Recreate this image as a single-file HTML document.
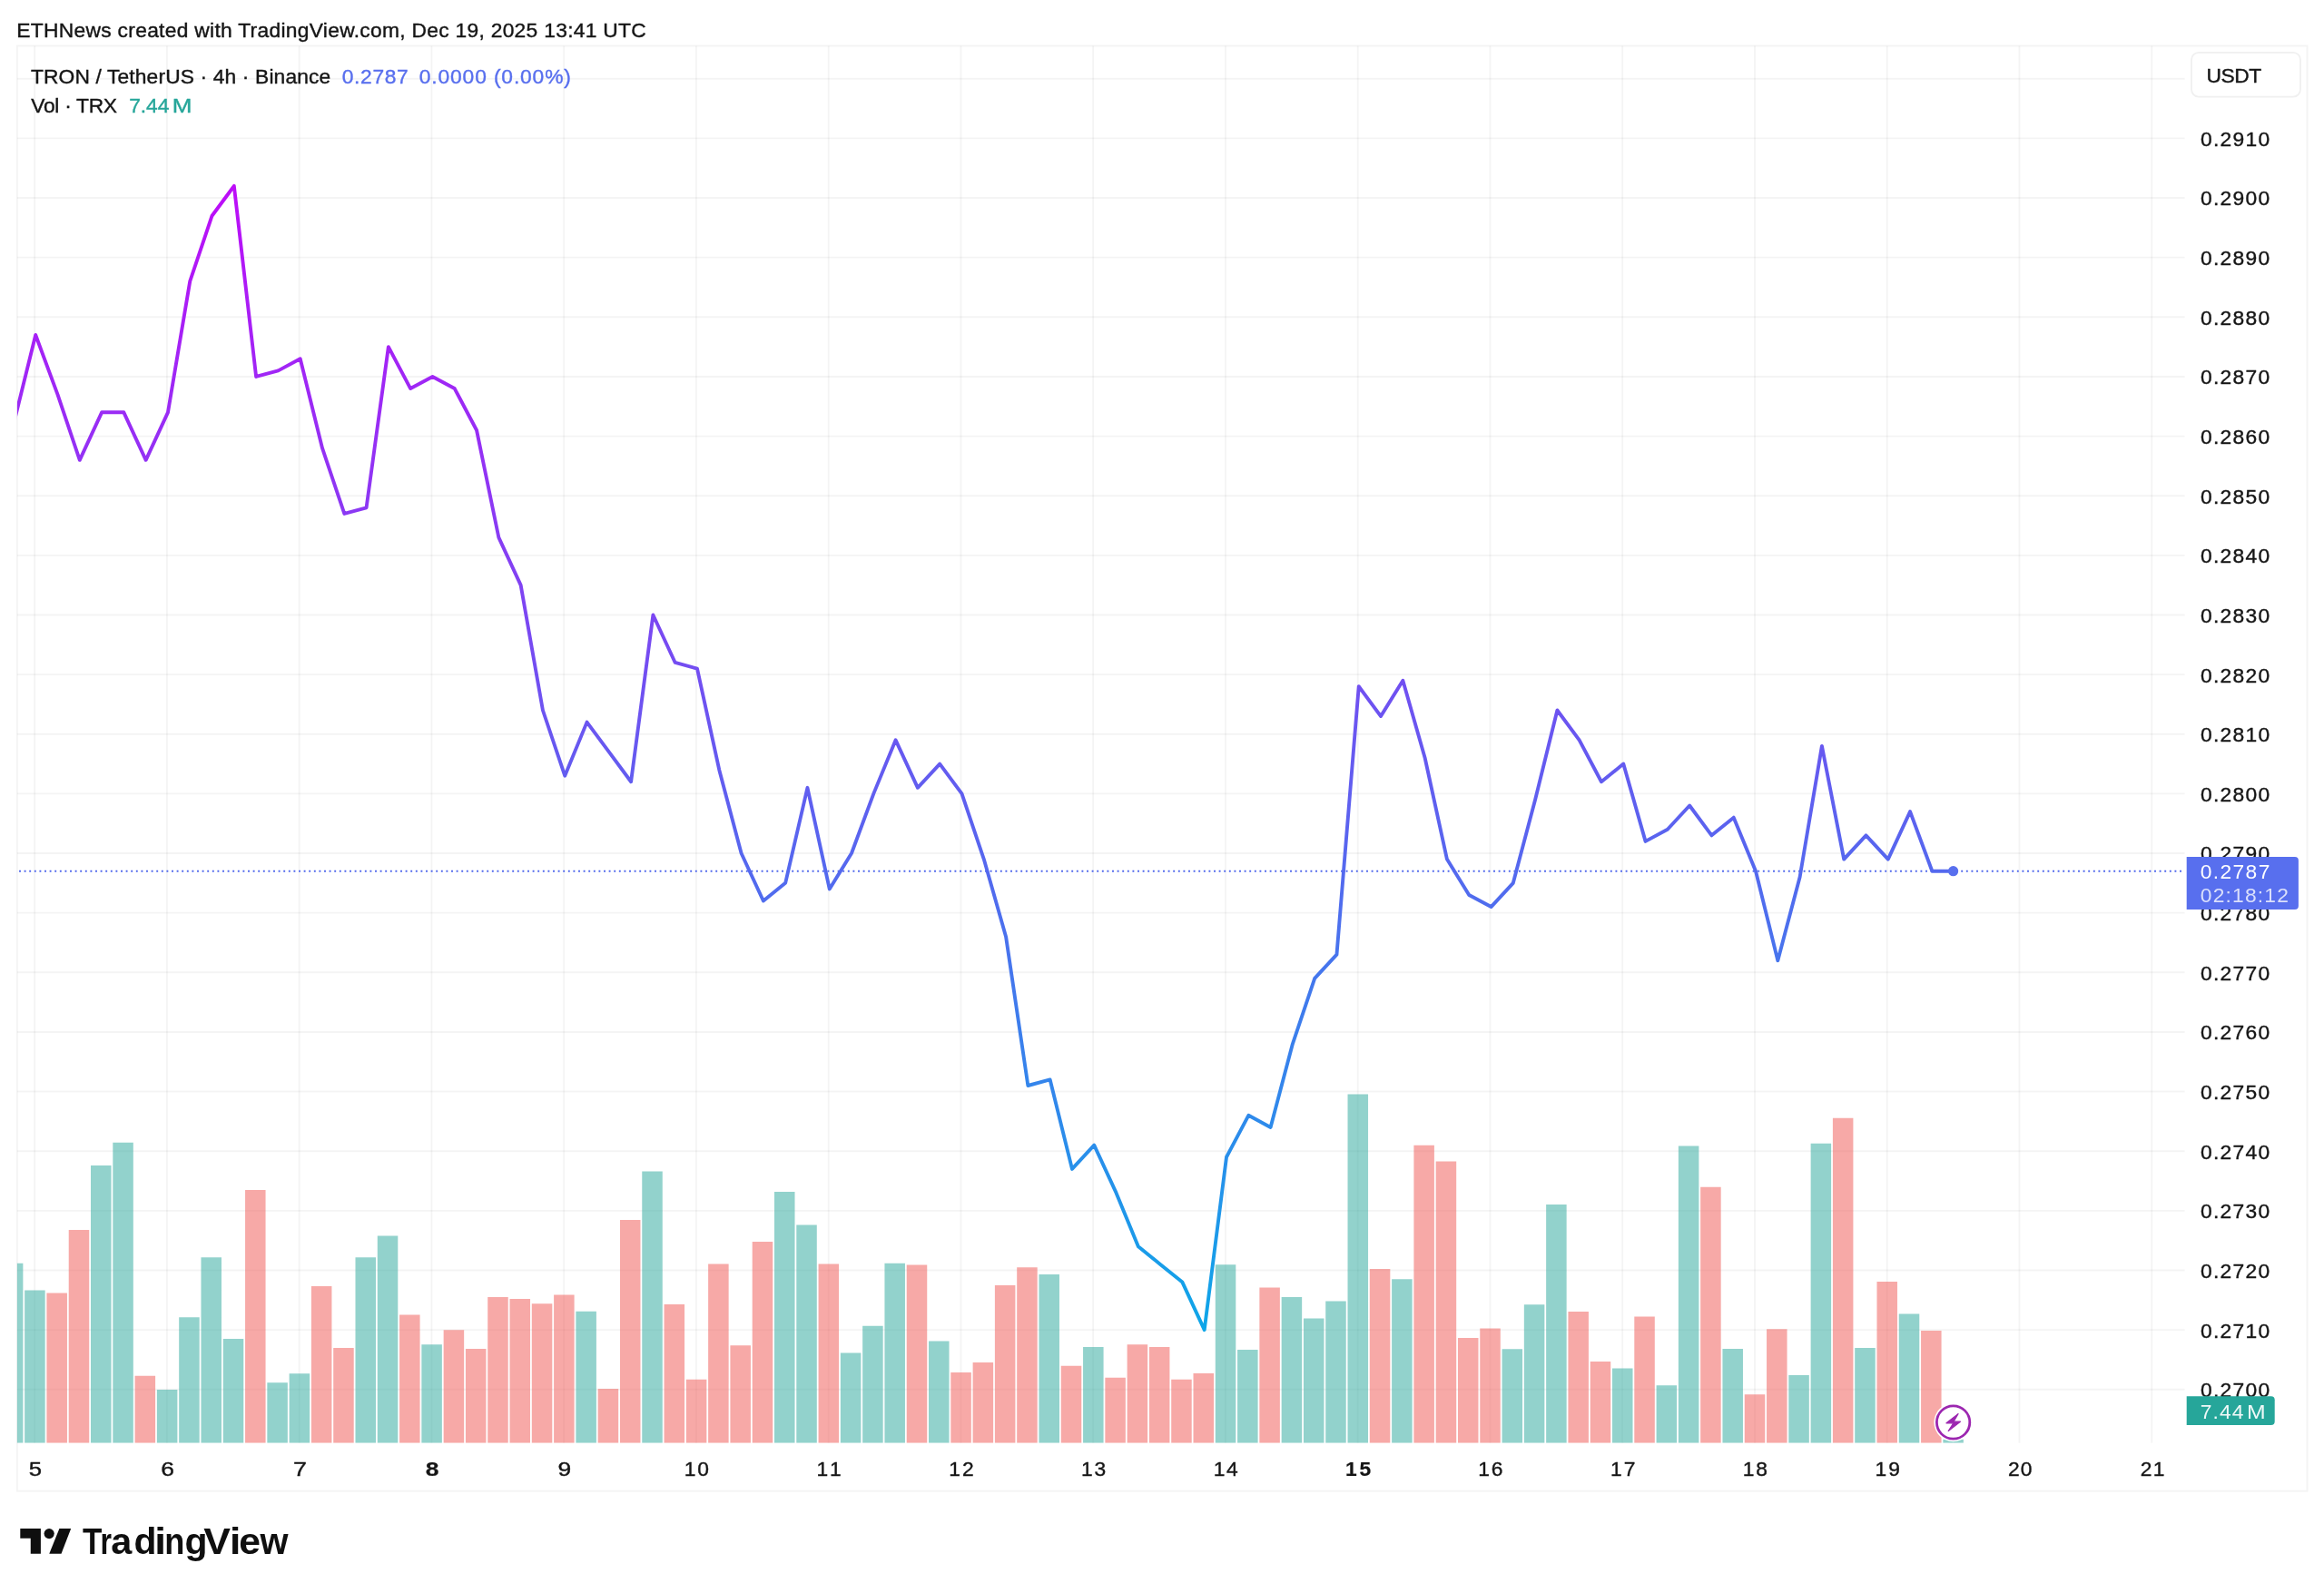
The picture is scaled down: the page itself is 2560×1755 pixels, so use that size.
<!DOCTYPE html>
<html><head><meta charset="utf-8"><title>TRXUSDT chart</title>
<style>html,body{margin:0;padding:0;background:#fff;}body{width:2560px;height:1755px;position:relative;overflow:hidden;font-family:"Liberation Sans",sans-serif;}</style></head>
<body>
<svg width="2560" height="1755" viewBox="0 0 2560 1755" font-family="Liberation Sans, sans-serif" style="position:absolute;left:0;top:0;display:block;will-change:transform">
<defs>
<linearGradient id="lg" gradientUnits="userSpaceOnUse" x1="0" y1="204.9" x2="0" y2="1465.1"><stop offset="0" stop-color="#bd0df8"/><stop offset="1" stop-color="#0ea6e8"/></linearGradient>
<clipPath id="cp"><rect x="18.9" y="50.5" width="2387.7" height="1539.2"/></clipPath>
</defs>
<rect width="2560" height="1755" fill="#fff"/>
<path d="M38.15 50.5V1589.7M183.91 50.5V1589.7M329.66 50.5V1589.7M475.42 50.5V1589.7M621.17 50.5V1589.7M766.93 50.5V1589.7M912.69 50.5V1589.7M1058.44 50.5V1589.7M1204.20 50.5V1589.7M1349.96 50.5V1589.7M1495.71 50.5V1589.7M1641.47 50.5V1589.7M1787.22 50.5V1589.7M1932.98 50.5V1589.7M2078.74 50.5V1589.7M2224.49 50.5V1589.7M2370.25 50.5V1589.7" stroke="#000" stroke-opacity="0.044" stroke-width="1.9" fill="none"/>
<path d="M18.9 86.77H2406.6M18.9 152.40H2406.6M18.9 218.04H2406.6M18.9 283.67H2406.6M18.9 349.31H2406.6M18.9 414.94H2406.6M18.9 480.58H2406.6M18.9 546.21H2406.6M18.9 611.85H2406.6M18.9 677.48H2406.6M18.9 743.12H2406.6M18.9 808.75H2406.6M18.9 874.38H2406.6M18.9 940.02H2406.6M18.9 1005.66H2406.6M18.9 1071.29H2406.6M18.9 1136.93H2406.6M18.9 1202.56H2406.6M18.9 1268.20H2406.6M18.9 1333.83H2406.6M18.9 1399.47H2406.6M18.9 1465.10H2406.6M18.9 1530.74H2406.6" stroke="#000" stroke-opacity="0.044" stroke-width="1.9" fill="none"/>
<rect x="18.9" y="50.5" width="2522.6" height="1592.2" fill="none" stroke="#000" stroke-opacity="0.044" stroke-width="2"/>
<g clip-path="url(#cp)">
<path d="M2.86 1391.7h22.5V1589.7h-22.5zM27.15 1421.5h22.5V1589.7h-22.5zM100.02 1284.1h22.5V1589.7h-22.5zM124.31 1258.8h22.5V1589.7h-22.5zM172.89 1530.9h22.5V1589.7h-22.5zM197.18 1451.3h22.5V1589.7h-22.5zM221.47 1385.2h22.5V1589.7h-22.5zM245.76 1474.9h22.5V1589.7h-22.5zM294.34 1523.2h22.5V1589.7h-22.5zM318.63 1513.3h22.5V1589.7h-22.5zM391.50 1385.2h22.5V1589.7h-22.5zM415.79 1361.6h22.5V1589.7h-22.5zM464.36 1481.2h22.5V1589.7h-22.5zM634.39 1444.8h22.5V1589.7h-22.5zM707.26 1290.6h22.5V1589.7h-22.5zM853.00 1313.0h22.5V1589.7h-22.5zM877.29 1349.4h22.5V1589.7h-22.5zM925.87 1490.5h22.5V1589.7h-22.5zM950.16 1460.7h22.5V1589.7h-22.5zM974.45 1391.7h22.5V1589.7h-22.5zM1023.03 1477.5h22.5V1589.7h-22.5zM1144.48 1403.9h22.5V1589.7h-22.5zM1193.06 1484.0h22.5V1589.7h-22.5zM1338.79 1393.3h22.5V1589.7h-22.5zM1363.08 1487.0h22.5V1589.7h-22.5zM1411.66 1429.1h22.5V1589.7h-22.5zM1435.95 1452.4h22.5V1589.7h-22.5zM1460.24 1433.6h22.5V1589.7h-22.5zM1484.53 1205.6h22.5V1589.7h-22.5zM1533.11 1409.2h22.5V1589.7h-22.5zM1654.56 1486.2h22.5V1589.7h-22.5zM1678.85 1437.3h22.5V1589.7h-22.5zM1703.14 1327.1h22.5V1589.7h-22.5zM1776.01 1507.5h22.5V1589.7h-22.5zM1824.59 1526.2h22.5V1589.7h-22.5zM1848.88 1262.6h22.5V1589.7h-22.5zM1897.46 1486.0h22.5V1589.7h-22.5zM1970.33 1515.0h22.5V1589.7h-22.5zM1994.62 1259.8h22.5V1589.7h-22.5zM2043.20 1484.9h22.5V1589.7h-22.5zM2091.77 1447.4h22.5V1589.7h-22.5zM2140.35 1585.8h22.5V1589.7h-22.5z" fill="#26a69a" fill-opacity="0.5"/>
<path d="M51.44 1424.4h22.5V1589.7h-22.5zM75.73 1355.1h22.5V1589.7h-22.5zM148.60 1515.8h22.5V1589.7h-22.5zM270.05 1311.0h22.5V1589.7h-22.5zM342.92 1417.0h22.5V1589.7h-22.5zM367.21 1485.1h22.5V1589.7h-22.5zM440.07 1448.5h22.5V1589.7h-22.5zM488.65 1465.3h22.5V1589.7h-22.5zM512.94 1486.0h22.5V1589.7h-22.5zM537.23 1428.9h22.5V1589.7h-22.5zM561.52 1430.9h22.5V1589.7h-22.5zM585.81 1436.3h22.5V1589.7h-22.5zM610.10 1426.4h22.5V1589.7h-22.5zM658.68 1530.0h22.5V1589.7h-22.5zM682.97 1344.0h22.5V1589.7h-22.5zM731.55 1437.1h22.5V1589.7h-22.5zM755.84 1519.8h22.5V1589.7h-22.5zM780.13 1392.6h22.5V1589.7h-22.5zM804.42 1482.3h22.5V1589.7h-22.5zM828.71 1368.1h22.5V1589.7h-22.5zM901.58 1392.6h22.5V1589.7h-22.5zM998.74 1393.4h22.5V1589.7h-22.5zM1047.32 1512.1h22.5V1589.7h-22.5zM1071.61 1501.1h22.5V1589.7h-22.5zM1095.90 1416.1h22.5V1589.7h-22.5zM1120.19 1396.3h22.5V1589.7h-22.5zM1168.77 1504.7h22.5V1589.7h-22.5zM1217.35 1517.8h22.5V1589.7h-22.5zM1241.63 1481.2h22.5V1589.7h-22.5zM1265.92 1484.0h22.5V1589.7h-22.5zM1290.21 1519.7h22.5V1589.7h-22.5zM1314.50 1513.1h22.5V1589.7h-22.5zM1387.37 1418.6h22.5V1589.7h-22.5zM1508.82 1398.1h22.5V1589.7h-22.5zM1557.40 1261.8h22.5V1589.7h-22.5zM1581.69 1279.4h22.5V1589.7h-22.5zM1605.98 1474.0h22.5V1589.7h-22.5zM1630.27 1463.4h22.5V1589.7h-22.5zM1727.43 1445.0h22.5V1589.7h-22.5zM1751.72 1500.1h22.5V1589.7h-22.5zM1800.30 1450.4h22.5V1589.7h-22.5zM1873.17 1307.8h22.5V1589.7h-22.5zM1921.75 1536.3h22.5V1589.7h-22.5zM1946.04 1464.2h22.5V1589.7h-22.5zM2018.91 1231.7h22.5V1589.7h-22.5zM2067.48 1412.0h22.5V1589.7h-22.5zM2116.06 1466.1h22.5V1589.7h-22.5z" fill="#ef5350" fill-opacity="0.5"/>
</g>
<path d="M2402.95 959.71H18.9" stroke="#5068ec" stroke-width="1.9" stroke-dasharray="1.9 3.7" fill="none"/>
<g clip-path="url(#cp)"><polyline points="14.91,467.45 39.20,369.00 63.49,434.63 87.79,506.83 112.08,454.32 136.37,454.32 160.66,506.83 184.96,454.32 209.25,309.92 233.54,237.73 257.83,204.91 282.13,414.94 306.42,408.38 330.71,395.25 355.01,493.70 379.30,565.90 403.59,559.34 427.88,382.12 452.18,428.07 476.47,414.94 500.76,428.07 525.05,474.01 549.35,592.15 573.64,644.66 597.93,782.50 622.22,854.69 646.52,795.62 670.81,828.44 695.10,861.26 719.40,677.48 743.69,729.99 767.98,736.55 792.27,848.13 816.57,940.02 840.86,992.53 865.15,972.84 889.44,867.82 913.74,979.40 938.03,940.02 962.32,874.38 986.62,815.31 1010.91,867.82 1035.20,841.57 1059.49,874.38 1083.79,946.58 1108.08,1031.91 1132.37,1196.00 1156.66,1189.43 1180.96,1287.89 1205.25,1261.63 1229.54,1314.14 1253.84,1373.21 1278.13,1392.90 1302.42,1412.59 1326.71,1465.10 1351.01,1274.76 1375.30,1228.81 1399.59,1241.94 1423.88,1150.05 1448.18,1077.85 1472.47,1051.60 1496.76,756.24 1521.05,789.06 1545.35,749.68 1569.64,835.00 1593.93,946.58 1618.23,985.96 1642.52,999.09 1666.81,972.84 1691.10,880.95 1715.40,782.50 1739.69,815.31 1763.98,861.26 1788.27,841.57 1812.57,926.89 1836.86,913.77 1861.15,887.51 1885.45,920.33 1909.74,900.64 1934.03,959.71 1958.32,1058.16 1982.62,966.27 2006.91,821.88 2031.20,946.58 2055.49,920.33 2079.79,946.58 2104.08,894.08 2128.37,959.71 2152.66,959.71" fill="none" stroke="url(#lg)" stroke-width="3.9" stroke-linejoin="round" stroke-linecap="round"/></g>
<circle cx="2151.6" cy="959.71" r="5.6" fill="#586fee"/>
<text x="18.33" y="40.90" font-size="22.8" letter-spacing="0.292" fill="#151515" stroke="#151515" stroke-width="0.4">ETHNews created with TradingView.com, Dec 19, 2025 13:41 UTC</text>
<text x="33.89" y="91.70" font-size="22.8" letter-spacing="0.135" fill="#151515" stroke="#151515" stroke-width="0.4">TRON / TetherUS · 4h · Binance</text>
<text x="376.81" y="91.70" font-size="22.8" letter-spacing="0.640" fill="#586fee" stroke="#586fee" stroke-width="0.4">0.2787</text>
<text x="461.81" y="91.70" font-size="22.8" letter-spacing="0.862" fill="#586fee" stroke="#586fee" stroke-width="0.4">0.0000 (0.00%)</text>
<text x="34.30" y="123.60" font-size="22.8" letter-spacing="-0.296" fill="#151515" stroke="#151515" stroke-width="0.4">Vol · TRX</text>
<text x="142.13" y="123.60" font-size="22.8" letter-spacing="-0.013" fill="#26a69a" stroke="#26a69a" stroke-width="0.4">7.44</text>
<text x="189.77" y="123.60" font-size="22.8" textLength="21.67" lengthAdjust="spacingAndGlyphs" fill="#26a69a" stroke="#26a69a" stroke-width="0.4">M</text>
<text x="2423.91" y="160.85" font-size="22.8" letter-spacing="1.309" fill="#151515" stroke="#151515" stroke-width="0.4">0.2910</text>
<text x="2423.91" y="226.49" font-size="22.8" letter-spacing="1.309" fill="#151515" stroke="#151515" stroke-width="0.4">0.2900</text>
<text x="2423.91" y="292.12" font-size="22.8" letter-spacing="1.309" fill="#151515" stroke="#151515" stroke-width="0.4">0.2890</text>
<text x="2423.91" y="357.76" font-size="22.8" letter-spacing="1.309" fill="#151515" stroke="#151515" stroke-width="0.4">0.2880</text>
<text x="2423.91" y="423.39" font-size="22.8" letter-spacing="1.309" fill="#151515" stroke="#151515" stroke-width="0.4">0.2870</text>
<text x="2423.91" y="489.03" font-size="22.8" letter-spacing="1.309" fill="#151515" stroke="#151515" stroke-width="0.4">0.2860</text>
<text x="2423.91" y="554.66" font-size="22.8" letter-spacing="1.309" fill="#151515" stroke="#151515" stroke-width="0.4">0.2850</text>
<text x="2423.91" y="620.30" font-size="22.8" letter-spacing="1.309" fill="#151515" stroke="#151515" stroke-width="0.4">0.2840</text>
<text x="2423.91" y="685.93" font-size="22.8" letter-spacing="1.309" fill="#151515" stroke="#151515" stroke-width="0.4">0.2830</text>
<text x="2423.91" y="751.57" font-size="22.8" letter-spacing="1.309" fill="#151515" stroke="#151515" stroke-width="0.4">0.2820</text>
<text x="2423.91" y="817.20" font-size="22.8" letter-spacing="1.309" fill="#151515" stroke="#151515" stroke-width="0.4">0.2810</text>
<text x="2423.91" y="882.84" font-size="22.8" letter-spacing="1.309" fill="#151515" stroke="#151515" stroke-width="0.4">0.2800</text>
<text x="2423.91" y="948.47" font-size="22.8" letter-spacing="1.309" fill="#151515" stroke="#151515" stroke-width="0.4">0.2790</text>
<text x="2423.91" y="1014.11" font-size="22.8" letter-spacing="1.309" fill="#151515" stroke="#151515" stroke-width="0.4">0.2780</text>
<text x="2423.91" y="1079.74" font-size="22.8" letter-spacing="1.309" fill="#151515" stroke="#151515" stroke-width="0.4">0.2770</text>
<text x="2423.91" y="1145.38" font-size="22.8" letter-spacing="1.309" fill="#151515" stroke="#151515" stroke-width="0.4">0.2760</text>
<text x="2423.91" y="1211.01" font-size="22.8" letter-spacing="1.309" fill="#151515" stroke="#151515" stroke-width="0.4">0.2750</text>
<text x="2423.91" y="1276.65" font-size="22.8" letter-spacing="1.309" fill="#151515" stroke="#151515" stroke-width="0.4">0.2740</text>
<text x="2423.91" y="1342.28" font-size="22.8" letter-spacing="1.309" fill="#151515" stroke="#151515" stroke-width="0.4">0.2730</text>
<text x="2423.91" y="1407.92" font-size="22.8" letter-spacing="1.309" fill="#151515" stroke="#151515" stroke-width="0.4">0.2720</text>
<text x="2423.91" y="1473.55" font-size="22.8" letter-spacing="1.309" fill="#151515" stroke="#151515" stroke-width="0.4">0.2710</text>
<text x="2423.91" y="1539.19" font-size="22.8" letter-spacing="1.309" fill="#151515" stroke="#151515" stroke-width="0.4">0.2700</text>
<rect x="2414" y="57.8" width="120" height="48.8" rx="8" fill="#fff" stroke="#f0f0f0" stroke-width="1.8"/>
<text x="2430.54" y="90.60" font-size="22.8" letter-spacing="-0.461" fill="#151515" stroke="#151515" stroke-width="0.4">USDT</text>
<path d="M2408.7 944H2527.9a4 4 0 0 1 4 4V997.9a4 4 0 0 1 -4 4H2408.7z" fill="#586fee"/>
<text x="2423.81" y="968.20" font-size="22.8" letter-spacing="1.360" fill="#fff">0.2787</text>
<text x="2423.81" y="994.40" font-size="22.8" letter-spacing="1.198" fill="#fff" opacity="0.78">02:18:12</text>
<path d="M2408.7 1538.2H2501.7a4 4 0 0 1 4 4V1565.9a4 4 0 0 1 -4 4H2408.7z" fill="#26a69a"/>
<text x="2423.83" y="1562.60" font-size="22.8" letter-spacing="1.087" fill="#fff" opacity="0.93">7.44</text>
<text x="2474.96" y="1562.60" font-size="22.8" textLength="20.67" lengthAdjust="spacingAndGlyphs" fill="#fff" opacity="0.93">M</text>
<text x="31.82" y="1625.90" font-size="22.8" textLength="14.31" lengthAdjust="spacingAndGlyphs" fill="#151515" stroke="#151515" stroke-width="0.4">5</text>
<text x="177.26" y="1625.90" font-size="22.8" textLength="14.70" lengthAdjust="spacingAndGlyphs" fill="#151515" stroke="#151515" stroke-width="0.4">6</text>
<text x="322.99" y="1625.90" font-size="22.8" textLength="14.93" lengthAdjust="spacingAndGlyphs" fill="#151515" stroke="#151515" stroke-width="0.4">7</text>
<text x="468.83" y="1625.90" font-size="22.8" textLength="14.76" lengthAdjust="spacingAndGlyphs" fill="#151515" font-weight="bold" stroke="#151515" stroke-width="0.2">8</text>
<text x="614.64" y="1625.90" font-size="22.8" textLength="14.69" lengthAdjust="spacingAndGlyphs" fill="#151515" stroke="#151515" stroke-width="0.4">9</text>
<text x="753.79" y="1625.90" font-size="22.8" letter-spacing="1.667" fill="#151515" stroke="#151515" stroke-width="0.4">10</text>
<text x="899.55" y="1625.90" font-size="22.8" letter-spacing="3.581" fill="#151515" stroke="#151515" stroke-width="0.4">11</text>
<text x="1045.31" y="1625.90" font-size="22.8" letter-spacing="1.923" fill="#151515" stroke="#151515" stroke-width="0.4">12</text>
<text x="1191.06" y="1625.90" font-size="22.8" letter-spacing="1.778" fill="#151515" stroke="#151515" stroke-width="0.4">13</text>
<text x="1336.82" y="1625.90" font-size="22.8" letter-spacing="1.444" fill="#151515" stroke="#151515" stroke-width="0.4">14</text>
<text x="1481.98" y="1625.90" font-size="22.8" letter-spacing="2.910" fill="#151515" font-weight="bold" stroke="#151515" stroke-width="0.2">15</text>
<text x="1628.33" y="1625.90" font-size="22.8" letter-spacing="1.778" fill="#151515" stroke="#151515" stroke-width="0.4">16</text>
<text x="1774.09" y="1625.90" font-size="22.8" letter-spacing="1.923" fill="#151515" stroke="#151515" stroke-width="0.4">17</text>
<text x="1919.84" y="1625.90" font-size="22.8" letter-spacing="1.767" fill="#151515" stroke="#151515" stroke-width="0.4">18</text>
<text x="2065.60" y="1625.90" font-size="22.8" letter-spacing="1.856" fill="#151515" stroke="#151515" stroke-width="0.4">19</text>
<text x="2211.95" y="1625.90" font-size="22.8" letter-spacing="1.077" fill="#151515" stroke="#151515" stroke-width="0.4">20</text>
<text x="2357.70" y="1625.90" font-size="22.8" letter-spacing="1.299" fill="#151515" stroke="#151515" stroke-width="0.4">21</text>
<g transform="translate(2151.6 1567.0)"><circle r="21.2" fill="#fff"/><circle r="18.2" fill="#fff" stroke="#9c27b0" stroke-width="2.8"/><path d="M5.4 -9.4L-7.6 0.8H0.2L-5.4 9.6L7.8 -0.8H0.4Z" fill="#9c27b0" stroke="#9c27b0" stroke-width="1.2" stroke-linejoin="round"/></g>
<g fill="#0f0f0f"><path d="M22.3 1684.1H44.9V1711.8H33.75V1694.8H22.3Z"/><circle cx="54.15" cy="1689.6" r="5.6"/><path d="M65.4 1684.1H78.2L67.5 1711.8H54.25Z"/></g>
<text y="1712" font-size="40.6" font-weight="bold" fill="#0f0f0f"><tspan x="91.01" textLength="21.37" lengthAdjust="spacingAndGlyphs">T</tspan><tspan x="110.48" textLength="12.50" lengthAdjust="spacingAndGlyphs">r</tspan><tspan x="122.39" textLength="23.05" lengthAdjust="spacingAndGlyphs">a</tspan><tspan x="147.52" textLength="24.97" lengthAdjust="spacingAndGlyphs">d</tspan><tspan x="170.19" textLength="12.76" lengthAdjust="spacingAndGlyphs">i</tspan><tspan x="181.21" textLength="22.14" lengthAdjust="spacingAndGlyphs">n</tspan><tspan x="203.62" textLength="25.02" lengthAdjust="spacingAndGlyphs">g</tspan><tspan x="224.20" textLength="29.71" lengthAdjust="spacingAndGlyphs">V</tspan><tspan x="252.90" textLength="12.35" lengthAdjust="spacingAndGlyphs">i</tspan><tspan x="263.33" textLength="23.72" lengthAdjust="spacingAndGlyphs">e</tspan><tspan x="286.42" textLength="31.01" lengthAdjust="spacingAndGlyphs">w</tspan></text>
</svg>
</body></html>
